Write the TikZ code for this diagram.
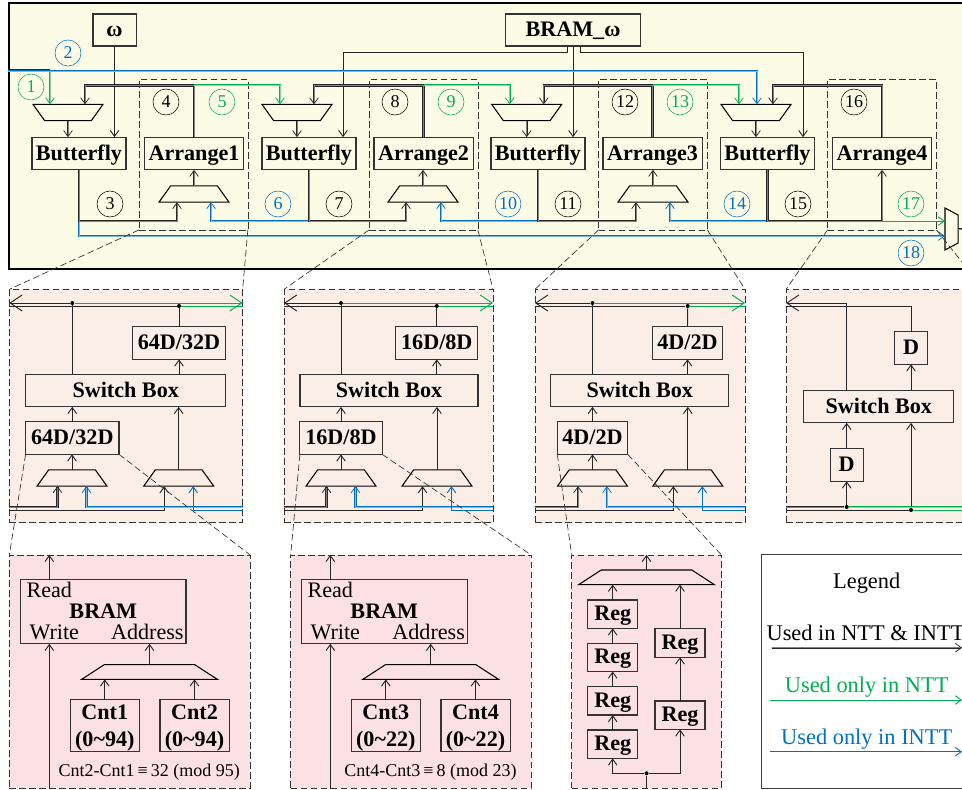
\documentclass[tikz,border=0pt]{standalone}
\usepackage{fontspec}
\setmainfont{Liberation Serif}
\usepackage{tikz}
\usetikzlibrary{arrows.meta, positioning, calc, shapes.geometric}
\definecolor{nttgreen}{HTML}{00B050}
\definecolor{inttblue}{HTML}{0070C0}
\definecolor{topfill}{HTML}{FBFBE6}
\definecolor{midfill}{HTML}{FBEEE6}
\definecolor{lowfill}{HTML}{FBE0E4}
\begin{document}
\begin{tikzpicture}[x=.75pt, y=-.75pt, >={Straight Barb[length=4.5pt,width=6.5pt]},
  bigtip/.style={-{Straight Barb[length=9pt,width=12pt]}},
  box/.style={draw=black!80, line width=.8pt, inner sep=0pt, outer sep=0pt, minimum height=24.5pt,
    align=center, text height=13pt, text depth=3pt, font=\fontsize{16.6}{20}\selectfont\bfseries},
  cnt/.style={box, minimum width=51.8pt, minimum height=39pt, text height=33pt, text depth=2pt},
  reg/.style={box, minimum width=37.5pt, minimum height=21.3pt},
  plain/.style={inner sep=0pt, text height=11pt, text depth=3pt, font=\fontsize{16.6}{18}\selectfont},
  lgnd/.style={plain, font=\fontsize{16.8}{19}\selectfont},
  note/.style={plain, font=\fontsize{13.5}{15}\selectfont},
  zone/.style={draw=black!80, dash pattern=on 5pt off 2.5pt, line width=.5pt, inner sep=0pt, outer sep=0pt, minimum width=81.5pt, minimum height=113pt},
  pane/.style={draw=black!80, dash pattern=on 5pt off 2.5pt, line width=.5pt, inner sep=0pt, outer sep=0pt},
  mux/.style={draw=black, line width=.8pt, trapezium, trapezium stretches, inner sep=1pt, outer sep=0pt,
    trapezium angle=76, minimum width=52.5pt, minimum height=12.2pt},
  invmux/.style={mux, shape border rotate=180},
  widemux/.style={mux, minimum width=101.7pt, minimum height=11pt},
  num/.style={draw, circle, minimum size=19.5pt, inner sep=0pt, font=\fontsize{13.5}{14}\selectfont},
  numg/.style={num, draw=nttgreen, text=nttgreen},
  numb/.style={num, draw=inttblue, text=inttblue},
  dot/.style={circle, fill=black, inner sep=0pt, minimum size=3pt},
  wire/.style={draw=black!85, line width=.7pt},
  bus/.style={draw=black!85, double=black!50, line width=.55pt, double distance=.7pt},
  gbus/.style={draw=nttgreen, double=nttgreen!50, line width=.55pt, double distance=.7pt},
  bbus/.style={draw=inttblue, double=inttblue!50, line width=.55pt, double distance=.7pt},
  gwire/.style={draw=nttgreen, line width=.7pt},
  bwire/.style={draw=inttblue, line width=.7pt},
  zoomline/.style={draw=black!80, dash pattern=on 5pt off 2.5pt, line width=.5pt}]
\useasboundingbox (0,0) rectangle (962,789);
\clip (0,0) rectangle (962,789);

\node[draw=black, line width=1.6pt, fill=topfill, inner sep=0pt, minimum width=743pt, minimum height=199.5pt] (frame) at (504.5,136) {};

\node[pane, fill=midfill, minimum width=175pt, minimum height=175pt] (pane1) at (126,406) {};
\node[pane, fill=midfill, minimum width=156.8pt, minimum height=175pt] (pane2) at (388.5,406) {};
\node[pane, fill=midfill, minimum width=157.5pt, minimum height=175pt] (pane3) at (640,406) {};
\node[pane, fill=midfill, minimum width=187.5pt, minimum height=175pt] (pane4) at (911,406) {};
\node[pane, fill=lowfill, minimum width=180.5pt, minimum height=175pt] (low1) at (129.65,671.5) {};
\node[pane, fill=lowfill, minimum width=180.2pt, minimum height=175pt] (low2) at (410.85,671.5) {};
\node[pane, fill=lowfill, minimum width=112.2pt, minimum height=175pt] (low3) at (646.5,671.5) {};
\node[draw=black!75, line width=.7pt, fill=white, inner sep=0pt, minimum width=200pt, minimum height=175pt] (legend) at (894.7,671.5) {};

% top row
\node[box, minimum width=32.3pt, minimum height=24pt] (omega) at (114.5,30) {ω};
\node[box, minimum width=101.3pt, minimum height=24pt] (bram) at (573,30) {BRAM\_ω};
\node[invmux] (mt1) at (68,112.5) {};
\node[invmux] (mt2) at (297,112.5) {};
\node[invmux] (mt3) at (526.7,112.5) {};
\node[invmux] (mt4) at (756,112.5) {};
\node[box, minimum width=70.5pt] (bf1) at (79,153.5) {Butterfly};
\node[box, minimum width=70.5pt] (bf2) at (309,153.5) {Butterfly};
\node[box, minimum width=70.5pt] (bf3) at (538,153.5) {Butterfly};
\node[box, minimum width=70.5pt] (bf4) at (767.5,153.5) {Butterfly};
\node[box, minimum width=74.3pt] (ar1) at (194,153.5) {Arrange1};
\node[box, minimum width=74.3pt] (ar2) at (423.5,153.5) {Arrange2};
\node[box, minimum width=74.3pt] (ar3) at (652.5,153.5) {Arrange3};
\node[box, minimum width=74.3pt] (ar4) at (882,153.5) {Arrange4};
\node[mux] (mb1) at (194,194) {};
\node[mux] (mb2) at (423,194) {};
\node[mux] (mb3) at (653,194) {};
\node[zone] (zone1) at (193.5,154.5) {};
\node[zone] (zone2) at (423.5,154.5) {};
\node[zone] (zone3) at (653,154.5) {};
\node[zone] (zone4) at (882,154.5) {};
\node[mux, shape border rotate=270, minimum width=31.5pt, minimum height=9.8pt] (mout) at (951.5,229) {};

\node[numg] (n1) at (31,87) {1};
\node[numb] (n2) at (68,53) {2};
\node[num] (n3) at (110,204) {3};
\node[num] (n4) at (166,102) {4};
\node[numg] (n5) at (222,102) {5};
\node[numb] (n6) at (278,204) {6};
\node[num] (n7) at (339,204) {7};
\node[num] (n8) at (395,102) {8};
\node[numg] (n9) at (451,102) {9};
\node[numb] (n10) at (508,204) {10};
\node[num] (n11) at (568,204) {11};
\node[num] (n12) at (625,102) {12};
\node[numg] (n13) at (680,102) {13};
\node[numb] (n14) at (737,204) {14};
\node[num] (n15) at (798,204) {15};
\node[num] (n16) at (854,102) {16};
\node[numg] (n17) at (911,204) {17};
\node[numb] (n18) at (911,253) {18};

\draw[wire,->] (omega.south) -- (omega.south |- bf1.north);
\draw[wire,->] ($(bram.south)+(-6,0)$) -- ++(0,6) -| (bf2.north -| 343,0);
\draw[wire,->] (bram.south) -- (bram.south |- bf3.north);
\draw[wire,->] ($(bram.south)+(7,0)$) -- ++(0,6) -| (bf4.north -| 803,0);

\draw[bus] (frame.west |- 0,70) -- (50,70);
\draw[gbus,->] (50,70) -- ($(mt1.north)+(-18,0)$);
\draw[bbus,->] (frame.west |- 0,71) -| ($(mt4.north)+(1,0)$);

\draw[bus,->] (ar1.north) |- ($(mt1.north)+(17,-19)$) -- ($(mt1.north)+(17,0)$);
\draw[gbus,->] (ar1.north |- 0,85) -| ($(mt2.north)+(-17,0)$);
\draw[bus,->] (ar2.north) |- ($(mt2.north)+(17,-19)$) -- ($(mt2.north)+(17,0)$);
\draw[gbus,->] (ar2.north |- 0,85) -| ($(mt3.north)+(-17,0)$);
\draw[bus,->] (ar3.north) |- ($(mt3.north)+(17,-19)$) -- ($(mt3.north)+(17,0)$);
\draw[gbus,->] (ar3.north |- 0,85) -| ($(mt4.north)+(-17,0)$);
\draw[bus,->] (ar4.north) |- ($(mt4.north)+(17,-19)$) -- ($(mt4.north)+(17,0)$);

\draw[bus,->] (mt1.south) -- (mt1.south |- bf1.north);
\draw[bus,->] (mt2.south) -- (mt2.south |- bf2.north);
\draw[bus,->] (mt3.south) -- (mt3.south |- bf3.north);
\draw[bus,->] (mt4.south) -- (mt4.south |- bf4.north);
\draw[bus,->] (mb1.north) -- (ar1.south);
\draw[bus,->] (mb2.north) -- (mb2.north |- ar2.south);
\draw[bus,->] (mb3.north) -- (mb3.north |- ar3.south);

\draw[bbus,->] (bf1.south |- 0,221) |- (mout.west |- 0,236);
\draw[bbus,->] (bf2.south |- 0,221) -| ($(mb1.south)+(17,0)$);
\draw[bbus,->] (bf3.south |- 0,221) -| ($(mb2.south)+(18,0)$);
\draw[bbus,->] (bf4.south |- 0,221) -| ($(mb3.south)+(17,0)$);
\draw[bus,->] (bf1.south) |- ($(mb1.south)+(-17,19)$) -- ($(mb1.south)+(-17,0)$);
\draw[bus,->] (bf2.south) |- ($(mb2.south)+(-17,19)$) -- ($(mb2.south)+(-17,0)$);
\draw[bus,->] (bf3.south) |- ($(mb3.south)+(-17,19)$) -- ($(mb3.south)+(-17,0)$);
\draw[bus,->] (bf4.south) |- (ar4.south |- 0,221) -- (ar4.south);
\draw[gwire,->] (ar4.south |- 0,221) -- (mout.west |- 0,221);
\draw[bus] (mout.east) -- (frame.east |- mout.east);

% first panel
\node[box, minimum width=150pt] (sw1) at (125.7,390.5) {Switch Box};
\node[box, minimum width=70pt] (da1) at (179,343) {64D/32D};
\node[box, minimum width=70pt] (db1) at (72.3,438) {64D/32D};
\node[mux] (ma1) at (72,478) {};
\node[mux] (mc1) at (178.7,478) {};
\node[dot] (dl1) at (72.3,303) {};
\node[dot] (dr1) at (179,306) {};
\draw[wire, bigtip] (dl1) -- (pane1.west |- dl1);
\draw[wire] (pane1.west |- dr1) -- (dr1);
\draw[gwire, bigtip] (dl1) -- (pane1.east |- dl1);
\draw[gwire] (dr1) -- (pane1.east |- dr1);
\draw[wire] (sw1.north -| dl1) -- (dl1);
\draw[wire] (da1.north) -- (dr1);
\draw[wire,->] (sw1.north -| da1) -- (da1.south);
\draw[wire,->] (db1.north) -- (db1.north |- sw1.south);
\draw[wire,->] (ma1.north) -- (ma1.north |- db1.south);
\draw[wire,->] (mc1.north) -- (mc1.north |- sw1.south);
\draw[bus,->] (pane1.west |- 0,507) -| ($(ma1.south)+(-14.5,0)$);
\draw[wire,->] (pane1.west |- 0,510) -| ($(mc1.south)+(-14.5,0)$);
\draw[bbus,->] (pane1.east |- 0,507) -| ($(ma1.south)+(14.5,0)$);
\draw[bwire,->] (pane1.east |- 0,510) -| ($(mc1.south)+(14.5,0)$);

% second panel
\node[box, minimum width=133.5pt] (sw2) at (389,390.5) {Switch Box};
\node[box, minimum width=61.7pt] (da2) at (436.8,343) {16D/8D};
\node[box, minimum width=61.7pt] (db2) at (341,438) {16D/8D};
\node[mux] (ma2) at (341,478) {};
\node[mux] (mc2) at (437,478) {};
\node[dot] (dl2) at (341,303) {};
\node[dot] (dr2) at (436.8,306) {};
\draw[wire, bigtip] (dl2) -- (pane2.west |- dl2);
\draw[wire] (pane2.west |- dr2) -- (dr2);
\draw[gwire, bigtip] (dl2) -- (pane2.east |- dl2);
\draw[gwire] (dr2) -- (pane2.east |- dr2);
\draw[wire] (sw2.north -| dl2) -- (dl2);
\draw[wire] (da2.north) -- (dr2);
\draw[wire,->] (sw2.north -| da2) -- (da2.south);
\draw[wire,->] (db2.north) -- (db2.north |- sw2.south);
\draw[wire,->] (ma2.north) -- (ma2.north |- db2.south);
\draw[wire,->] (mc2.north) -- (mc2.north |- sw2.south);
\draw[bus,->] (pane2.west |- 0,507) -| ($(ma2.south)+(-14.5,0)$);
\draw[wire,->] (pane2.west |- 0,510) -| ($(mc2.south)+(-14.5,0)$);
\draw[bbus,->] (pane2.east |- 0,507) -| ($(ma2.south)+(14.5,0)$);
\draw[bwire,->] (pane2.east |- 0,510) -| ($(mc2.south)+(14.5,0)$);

% third panel
\node[box, minimum width=133.5pt] (sw3) at (639.8,390.5) {Switch Box};
\node[box, minimum width=52.9pt] (da3) at (687.5,343) {4D/2D};
\node[box, minimum width=52.9pt] (db3) at (592.5,438) {4D/2D};
\node[mux] (ma3) at (592.5,478) {};
\node[mux] (mc3) at (687.8,478) {};
\node[dot] (dl3) at (592.5,303) {};
\node[dot] (dr3) at (687.7,306) {};
\draw[wire, bigtip] (dl3) -- (pane3.west |- dl3);
\draw[wire] (pane3.west |- dr3) -- (dr3);
\draw[gwire, bigtip] (dl3) -- (pane3.east |- dl3);
\draw[gwire] (dr3) -- (pane3.east |- dr3);
\draw[wire] (sw3.north -| dl3) -- (dl3);
\draw[wire] (da3.north) -- (dr3);
\draw[wire,->] (sw3.north -| da3) -- (da3.south);
\draw[wire,->] (db3.north) -- (db3.north |- sw3.south);
\draw[wire,->] (ma3.north) -- (ma3.north |- db3.south);
\draw[wire,->] (mc3.north) -- (mc3.north |- sw3.south);
\draw[bus,->] (pane3.west |- 0,507) -| ($(ma3.south)+(-14.5,0)$);
\draw[wire,->] (pane3.west |- 0,510) -| ($(mc3.south)+(-14.5,0)$);
\draw[bbus,->] (pane3.east |- 0,507) -| ($(ma3.south)+(14.5,0)$);
\draw[bwire,->] (pane3.east |- 0,510) -| ($(mc3.south)+(14.5,0)$);

% fourth panel
\node[box, minimum width=112.3pt] (sw4) at (878.8,406.5) {Switch Box};
\node[box, minimum width=24.5pt] (da4) at (911,348) {D};
\node[box, minimum width=24.5pt] (db4) at (846.7,465) {D};
\node[dot] (dl4) at (846.7,507) {};
\node[dot] (dr4) at (911,510) {};
\draw[wire, bigtip] (sw4.north -| db4) |- (pane4.west |- 0,303);
\draw[wire] (da4.north) |- (pane4.west |- 0,306);
\draw[wire,->] (sw4.north -| da4) -- (da4.south);
\draw[wire,->] (db4.north) -- (db4.north |- sw4.south);
\draw[wire,->] (dl4) -- (db4.south);
\draw[wire,->] (dr4) -- (dr4 |- sw4.south);
\draw[bus] (pane4.west |- dl4) -- (dl4);
\draw[wire] (pane4.west |- dr4) -- (dr4);
\draw[gbus, bigtip] (dl4) -- (pane4.east |- dl4);
\draw[gwire, bigtip] (dr4) -- (pane4.east |- dr4);

% BRAM panels
\node[box, minimum width=124pt, minimum height=48pt] (ram1) at (103.3,611.8) {};
\node[box, draw=none] (ramt1) at (103.3,611.5) {BRAM};
\node[plain] (rd1) at (49.3,592.4) {Read};
\node[plain] (wr1) at (54.3,633.7) {Write};
\node[plain] (ad1) at (147.3,633.7) {Address};
\node[widemux] (mw1) at (149.5,672) {};
\node[cnt] (ca1) at (104.8,725.5) {Cnt1\\(0\textasciitilde94)};
\node[cnt] (cb1) at (194.5,725.5) {Cnt2\\(0\textasciitilde94)};
\node[note] (note1) at (149.3,771.4) {Cnt2-Cnt1\,≡\,32 (mod 95)};
\coordinate (in1) at (49.3,789);
\draw[wire,->] (ram1.north -| rd1) -- (low1.north -| rd1);
\draw[wire,->] (in1) -- (in1 |- ram1.south);
\draw[wire,->] (mw1.north) -- (mw1.north |- ram1.south);
\draw[wire,->] (ca1.north) -- (ca1.north |- mw1.south);
\draw[wire,->] (cb1.north) -- (cb1.north |- mw1.south);

\node[box, minimum width=124pt, minimum height=48pt] (ram2) at (384.5,611.8) {};
\node[box, draw=none] (ramt2) at (384.3,611.5) {BRAM};
\node[plain] (rd2) at (330.3,592.4) {Read};
\node[plain] (wr2) at (335.3,633.7) {Write};
\node[plain] (ad2) at (428.7,633.7) {Address};
\node[widemux] (mw2) at (430.7,672) {};
\node[cnt] (ca2) at (385.8,725.5) {Cnt3\\(0\textasciitilde22)};
\node[cnt] (cb2) at (475.5,725.5) {Cnt4\\(0\textasciitilde22)};
\node[note] (note2) at (430.5,771.4) {Cnt4-Cnt3\,≡\,8 (mod 23)};
\coordinate (in2) at (330.3,789);
\draw[wire,->] (ram2.north -| rd2) -- (low2.north -| rd2);
\draw[wire,->] (in2) -- (in2 |- ram2.south);
\draw[wire,->] (mw2.north) -- (mw2.north |- ram2.south);
\draw[wire,->] (ca2.north) -- (ca2.north |- mw2.south);
\draw[wire,->] (cb2.north) -- (cb2.north |- mw2.south);

% registers
\node[widemux] (mw3) at (646.5,577.3) {};
\node[reg] (rg1) at (612.7,614.2) {Reg};
\node[reg] (rg2) at (612.7,657.3) {Reg};
\node[reg] (rg3) at (612.7,700.8) {Reg};
\node[reg] (rg4) at (612.7,744.2) {Reg};
\node[reg] (rg5) at (680,643) {Reg};
\node[reg] (rg6) at (680,715.2) {Reg};
\node[dot] (dr5) at (646.5,773.3) {};
\coordinate (in3) at (646.5,789);
\draw[wire] (in3) -- (dr5);
\draw[wire,->] (dr5) -| (rg4.south);
\draw[wire,->] (dr5) -| (rg6.south);
\draw[wire,->] (rg4.north) -- (rg3.south);
\draw[wire,->] (rg3.north) -- (rg2.south);
\draw[wire,->] (rg2.north) -- (rg1.south);
\draw[wire,->] (rg1.north) -- (rg1.north |- mw3.south);
\draw[wire,->] (rg6.north) -- (rg5.south);
\draw[wire,->] (rg5.north) -- (rg5.north |- mw3.south);
\draw[wire,->] (mw3.north) -- (low3.north -| mw3.north);

% legend
\node[lgnd] (lgd) at (866.7,583) {Legend};
\node[lgnd] (lg1) at (865.5,635.4) {Used in NTT \& INTT};
\node[lgnd, text=nttgreen] (lg2) at (866.7,687.4) {Used only in NTT};
\node[lgnd, text=inttblue] (lg3) at (866.7,738.7) {Used only in INTT};
\coordinate (e1) at (962,647.7);
\coordinate (e2) at (962,700);
\coordinate (e3) at (962,751.7);
\draw[bus,->] (771.7,647.7) -- (e1);
\draw[gwire,->] (770,700) -- (e2);
\draw[bwire,->] (770,751.7) -- (e3);

% zoom lines
\coordinate (out4) at (985,291);
\draw[zoomline] (zone1.south west) -- (pane1.north west);
\draw[zoomline] (zone1.south east) -- (pane1.north east);
\draw[zoomline] (zone2.south west) -- (pane2.north west);
\draw[zoomline] (zone2.south east) -- (pane2.north east);
\draw[zoomline] (zone3.south west) -- (pane3.north west);
\draw[zoomline] (zone3.south east) -- (pane3.north east);
\draw[zoomline] (zone4.south west) -- (pane4.north west);
\draw[zoomline] (zone4.south east) -- (out4);
\draw[zoomline] (db1.south west) -- (low1.north west);
\draw[zoomline] (db1.south east) -- (low1.north east);
\draw[zoomline] (db2.south west) -- (low2.north west);
\draw[zoomline] (db2.south east) -- (low2.north east);
\draw[zoomline] (db3.south west) -- (low3.north west);
\draw[zoomline] (db3.south east) -- (low3.north east);
\end{tikzpicture}
\end{document}
